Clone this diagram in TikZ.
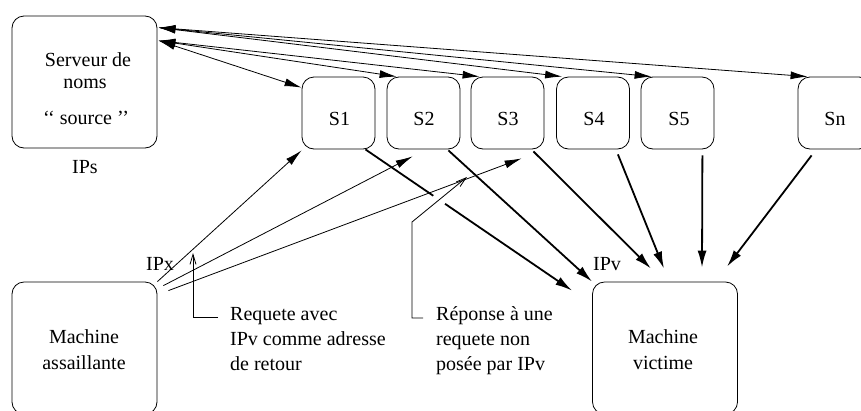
\documentclass[tikz,border=0pt]{standalone}
\usepackage{fontspec}
\setmainfont{Liberation Serif}
\usetikzlibrary{arrows.meta,calc,intersections}
\begin{document}
\begin{tikzpicture}[x=1pt,y=-1pt,
  box/.style={draw, line width=0.8pt, rounded corners=12pt, inner sep=0pt},
  txt/.style={font=\fontsize{20}{25}\selectfont, inner sep=0pt},
  sbox/.style={box, minimum width=73pt, minimum height=72pt},
  bigbox/.style={box, minimum width=145pt, minimum height=132pt},
  thinarrow/.style={line width=0.8pt, -{Latex[length=17pt,width=8pt]}},
  thickarrow/.style={line width=1.8pt, -{Latex[length=17pt,width=9pt]}},
  dblarrow/.style={line width=0.8pt, {Latex[length=17pt,width=8pt]}-{Latex[length=17pt,width=8pt]}},
  calloutline/.style={line width=0.8pt, -{Straight Barb[length=10pt,width=6pt]}}]
\useasboundingbox (0,0) rectangle (861,410);
\clip (0,0) rectangle (861,410);
% boxes
\node[bigbox] (srv) at (84.5,82) {};
\node[bigbox] (att) at (84.5,348) {};
\node[bigbox] (vic) at (665,348) {};
\node[sbox] (s1) at (338.5,113) {};
\node[sbox] (s2) at (423.5,113) {};
\node[sbox] (s3) at (507.5,113) {};
\node[sbox] (s4) at (593,113) {};
\node[sbox] (s5) at (677.5,113) {};
\node[sbox] (sn) at (834.5,113) {};
% texts
\node[txt, anchor=base] (t1) at (88,66) {Serveur de};
\node[txt, anchor=base] (t2) at (85,88) {noms};
\node[txt, anchor=base] (t3) at (86,124) {‘‘ source ’’};
\node[txt, anchor=base] (ips) at (85,173) {IPs};
\node[txt, anchor=base] (l1) at (339.5,125) {S1};
\node[txt, anchor=base] (l2) at (424,125) {S2};
\node[txt, anchor=base] (l3) at (508,125) {S3};
\node[txt, anchor=base] (l4) at (594,125) {S4};
\node[txt, anchor=base] (l5) at (679,125) {S5};
\node[txt, anchor=base] (ln) at (835,125) {Sn};
\node[txt, anchor=base] (m1) at (84,343) {Machine};
\node[txt, anchor=base] (m2) at (84,369) {assaillante};
\node[txt, anchor=base] (v1t) at (663,343) {Machine};
\node[txt, anchor=base] (v2t) at (663,369) {victime};
\node[txt, anchor=base west] (ipx) at (146,270) {IPx};
\node[txt, anchor=base west] (ipv) at (593,270) {IPv};
\node[txt, anchor=base west] (r1) at (230,320) {Requete avec};
\node[txt, anchor=base west] (r2) at (230,345) {IPv comme adresse};
\node[txt, anchor=base west] (r3) at (230,370) {de retour};
\node[txt, anchor=base west] (p1) at (436,320) {Réponse à une};
\node[txt, anchor=base west] (p2) at (436,345) {requete non};
\node[txt, anchor=base west] (p3) at (436,370) {posée par IPv};
% server <-> S arrows
\draw[dblarrow] ([shift={(1,25)}]srv.north east) -- ([shift={(0,11)}]s1.north west);
\draw[dblarrow] ([shift={(1,25)}]srv.north east) -- ([shift={(10,0)}]s2.north west);
\draw[dblarrow] ([shift={(1,25)}]srv.north east) -- ([shift={(9,0)}]s3.north west);
\draw[dblarrow] ([shift={(1,12)}]srv.north east) -- ([shift={(6,0)}]s4.north west);
\draw[dblarrow] ([shift={(1,12)}]srv.north east) -- ([shift={(11,0)}]s5.north west);
\draw[dblarrow] ([shift={(1,12)}]srv.north east) -- ([shift={(10,0)}]sn.north west);
% thick arrows to victim
\coordinate (a1) at ([shift={(-10,0)}]s1.south east);
\coordinate (b1) at ([shift={(-20,9)}]vic.north west);
\draw[thickarrow] (a1) -- (b1);
\draw[thickarrow] ([shift={(-12,1)}]s2.south east) -- (vic.north west);
\draw[thickarrow] ([shift={(-11,2)}]s3.south east) -- ([shift={(-14,-13)}]vic.north);
\draw[thickarrow] ([shift={(-12,5)}]s4.south east) -- ([shift={(-1,-13)}]vic.north);
\draw[thickarrow] ([shift={(-12,6)}]s5.south east) -- ([shift={(37,-14)}]vic.north);
\draw[thickarrow] ([shift={(14,6)}]sn.south west) -- ([shift={(62,-15)}]vic.north);
% callouts
\coordinate (cr0) at (218,317);
\coordinate (cr1) at (193,317);
\coordinate (cr2) at (193,253);
\coordinate (cp0) at (423,318);
\coordinate (cp1) at (412,318);
\coordinate (cp2) at (412,222);
\coordinate (cp3) at (467,177);
\path[name path=thickA] (a1) -- (b1);
\path[name path=callB] (cp2) -- (cp3);
\path[name intersections={of=thickA and callB, by=xing}];
\draw[white, line width=4pt] ($(xing)!7pt!(a1)$) -- ($(xing)!7pt!(b1)$);
\draw[calloutline] (cr0) -- (cr1) -- (cr2);
\draw[calloutline] (cp0) -- (cp1) -- (cp2) -- (cp3);
% thin attacker arrows
\draw[thinarrow] (att.north east) -- ([shift={(0,1)}]s1.south west);
\draw[thinarrow] ([shift={(6,4)}]att.north east) -- ([shift={(26,7)}]s2.south west);
\draw[thinarrow] ([shift={(11,9)}]att.north east) -- ([shift={(51,9)}]s3.south west);
\end{tikzpicture}
\end{document}
